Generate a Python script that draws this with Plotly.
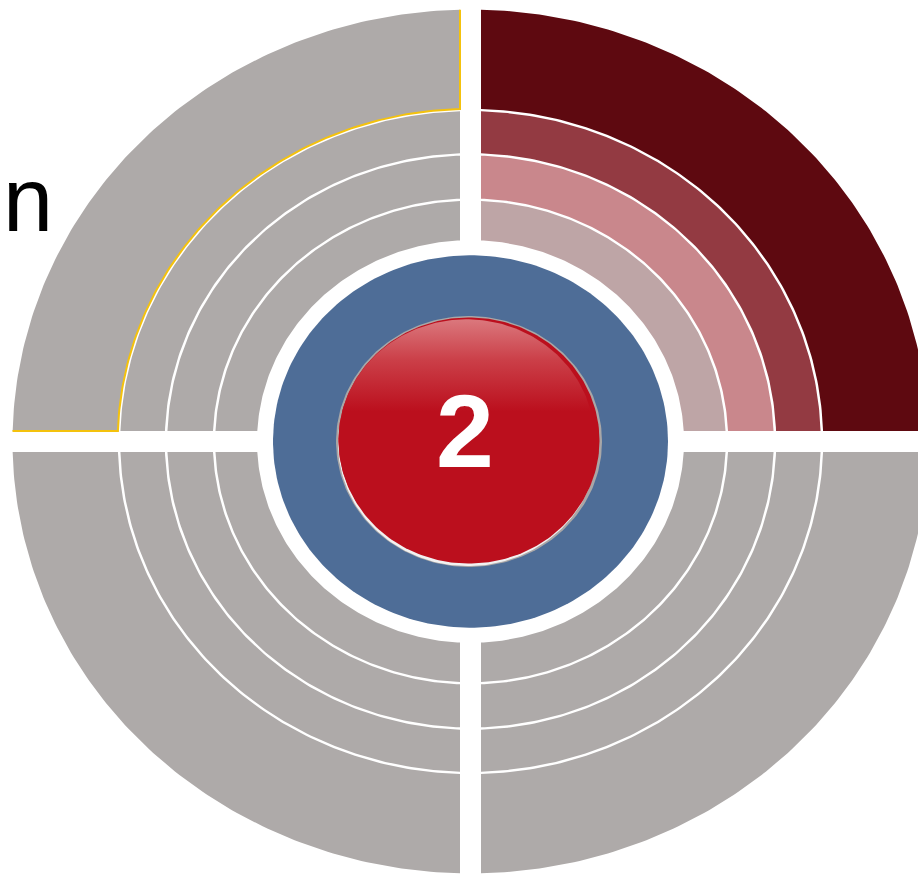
import numpy as np
import plotly.graph_objects as go

# ---- data ----
quadrants = ["top-right", "top-left", "bottom-left", "bottom-right"]
ring_names = ["Level 1", "Level 2", "Level 3", "Level 4"]
ring_inner_start = 213.5
ring_outer = [256.5, 304.5, 351.5, 458.0]
highlight_colors = ["#BEA5A6", "#C9878C", "#933A42", "#5E0910"]
grey = "#AEAAA9"
core_outer = 197.5
sphere_radius = 131.0
center_label = "2"
side_label = "n"

# ---- geometry constants ----
W, H = 918, 874
cx, cy = 470.5, 441.5
k = 0.943           # vertical squash of the ellipse
gap = 10.5          # half width of the quadrant separators
ring_gap = 1.25     # half width of ring separators
signs = {"top-right": (1, 1), "top-left": (-1, 1),
         "bottom-left": (-1, -1), "bottom-right": (1, -1)}


def arc(r, t0, t1, n=120):
    t = np.linspace(t0, t1, n)
    return r * np.cos(t), k * r * np.sin(t)


def segment(r_in, r_out, q):
    sx, sy = signs[q]
    a1 = np.arcsin(gap / (k * r_out)); a2 = np.arccos(gap / r_out)
    b1 = np.arcsin(gap / (k * r_in)); b2 = np.arccos(gap / r_in)
    uo, vo = arc(r_out, a1, a2)
    ui, vi = arc(r_in, b2, b1)
    u = np.concatenate([uo, ui, uo[:1]]); v = np.concatenate([vo, vi, vo[:1]])
    return cx + sx * u, cy - sy * v


def ellipse(r, ox=0.0, oy=0.0, kk=k, n=240):
    t = np.linspace(0, 2 * np.pi, n)
    return cx + ox + r * np.cos(t), cy + oy - kk * r * np.sin(t)


fig = go.Figure()

bounds = [ring_inner_start] + ring_outer
for q in quadrants:
    for i, name in enumerate(ring_names):
        r_in = bounds[i] + (ring_gap if i > 0 else 0)
        r_out = bounds[i + 1] - (ring_gap if i < len(ring_names) - 1 else 0)
        x, y = segment(r_in, r_out, q)
        col = highlight_colors[i] if q == "top-right" else grey
        fig.add_trace(go.Scatter(x=x, y=y, fill="toself", fillcolor=col,
                                 line=dict(width=0), mode="lines",
                                 hoverinfo="skip", name=f"{q} {name}"))

# yellow outline of the top-left outer segment (inner arc, lower and right edges)
r_in = ring_outer[2] + ring_gap
r_out = ring_outer[3]
b1 = np.arcsin(gap / (k * r_in)); b2 = np.arccos(gap / r_in)
ui, vi = arc(r_in, b2, b1)
a2 = np.arccos(gap / r_out)
yu = np.concatenate([[r_out * np.cos(a2)], ui, [r_out]])
yv = np.concatenate([[k * r_out * np.sin(a2)], vi, [gap]])
fig.add_trace(go.Scatter(x=cx - yu, y=cy - yv, mode="lines",
                         line=dict(color="#F4C20D", width=2),
                         hoverinfo="skip"))

# blue core ring
x, y = ellipse(core_outer)
fig.add_trace(go.Scatter(x=x, y=y, fill="toself", fillcolor="#4E6D97",
                         line=dict(width=0), mode="lines", hoverinfo="skip"))

# sphere: grey rim, white reflection, red body, glossy highlight
x, y = ellipse(sphere_radius + 2, ox=-1.5)
fig.add_trace(go.Scatter(x=x, y=y, fill="toself", fillcolor="#A9A7A7",
                         line=dict(width=0), mode="lines", hoverinfo="skip"))
x, y = ellipse(sphere_radius - 1, ox=-2.5, oy=2)
fig.add_trace(go.Scatter(x=x, y=y, fill="toself", fillcolor="#F2F2F2",
                         line=dict(width=0), mode="lines", hoverinfo="skip"))
x, y = ellipse(sphere_radius - 0.5, ox=-1.5, oy=-1)
fig.add_trace(go.Scatter(x=x, y=y, fill="toself", fillcolor="#BB0F1D",
                         line=dict(width=0), mode="lines", hoverinfo="skip"))
x, y = ellipse(sphere_radius - 3, ox=-4, oy=-1.5)
fig.add_trace(go.Scatter(
    x=x, y=y, fill="toself", line=dict(width=0), mode="lines", hoverinfo="skip",
    fillgradient=dict(type="vertical",
                      colorscale=[[0, "#DB7A7F"], [0.45, "#CB3F48"], [1, "#BB0F1D"]],
                      start=cy - k * sphere_radius, stop=cy - 30)))

# labels
fig.add_annotation(x=465, y=431, text=center_label, showarrow=False,
                   xanchor="center", yanchor="middle",
                   font=dict(family="Liberation Sans, Arial", size=104,
                             color="white", weight="bold"))
fig.add_annotation(x=1, y=200, text=side_label, showarrow=False,
                   xanchor="left", yanchor="middle",
                   font=dict(family="Liberation Sans, Arial", size=90,
                             color="black"))

fig.update_layout(
    width=W, height=H, margin=dict(l=0, r=0, t=0, b=0),
    paper_bgcolor="white", plot_bgcolor="white", showlegend=False,
    xaxis=dict(range=[0, W], visible=False, fixedrange=True),
    yaxis=dict(range=[H, 0], visible=False, fixedrange=True),
)

fig.write_html("out.html", config={"displayModeBar": False},
               post_script="document.body.style.margin='0';document.body.style.overflow='hidden';")
